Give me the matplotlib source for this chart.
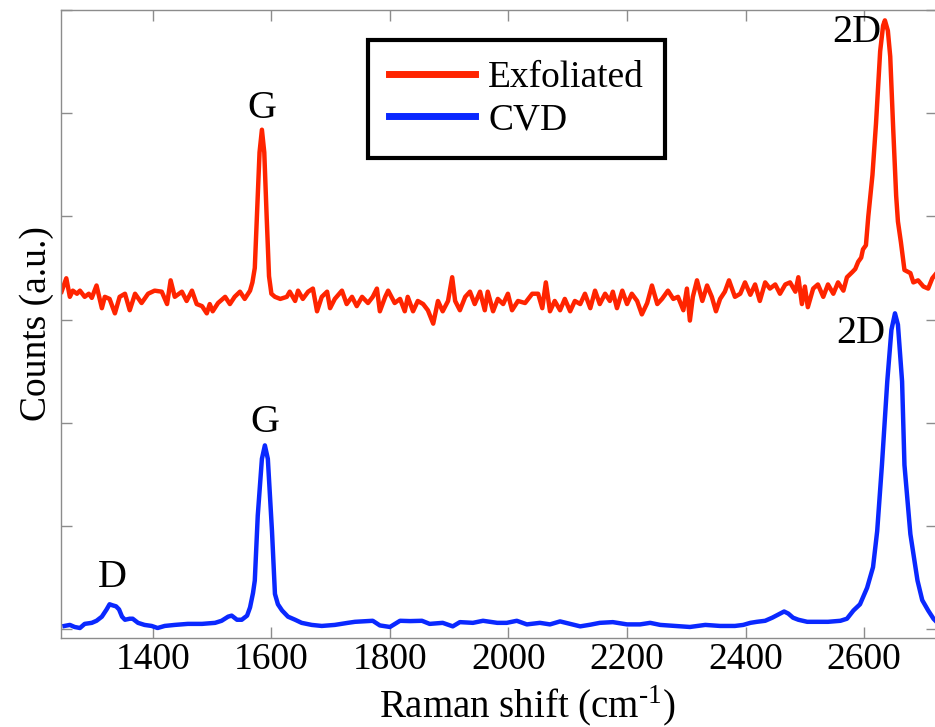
import matplotlib
matplotlib.use("Agg")
import matplotlib.pyplot as plt

# Raman spectra (counts in arbitrary units, one tick = 1)
exfoliated_shift = [
    1246, 1254, 1260, 1265, 1272, 1277, 1285, 1292, 1297, 1305, 1314, 1319, 1327, 1336,
    1344, 1353, 1361, 1370, 1381, 1392, 1403, 1415, 1424, 1430, 1437, 1449, 1457, 1466,
    1474, 1483, 1491, 1496, 1501, 1510, 1522, 1530, 1538, 1547, 1555, 1564,
    1568, 1572, 1576, 1580, 1584, 1588, 1592, 1596, 1600, 1606, 1615,
    1626, 1631, 1640, 1645, 1653, 1662, 1670, 1677, 1685, 1694, 1699, 1707, 1719, 1727,
    1736, 1744, 1753, 1763, 1771, 1778, 1783, 1792, 1797, 1808, 1817, 1825, 1830, 1839,
    1847, 1856, 1864, 1873, 1881, 1889, 1898, 1905, 1910, 1918, 1927, 1935, 1943, 1952,
    1960, 1965, 1974, 1982, 1991, 1999, 2006, 2016, 2028, 2040, 2050, 2057, 2063, 2070,
    2078, 2087, 2095, 2104, 2112, 2121, 2129, 2138, 2146, 2154, 2163, 2171, 2176, 2183,
    2192, 2200, 2208, 2217, 2225, 2234, 2242, 2251, 2259, 2269, 2278, 2286, 2295, 2301,
    2306, 2311, 2318, 2327, 2335, 2343, 2350, 2357, 2365, 2372, 2382, 2391, 2399, 2408,
    2416, 2424, 2433, 2441, 2450, 2458, 2467, 2475, 2484, 2489, 2495, 2500, 2505, 2514,
    2522, 2531, 2539, 2548, 2556, 2565, 2571, 2580, 2585, 2590, 2595, 2598, 2603, 2607,
    2614, 2620, 2627, 2632, 2635, 2640, 2644, 2649, 2654, 2657, 2662, 2668, 2678, 2683,
    2691, 2700, 2708, 2715, 2722,
]
exfoliated_counts = [
    3.27, 3.40, 3.22, 3.28, 3.25, 3.28, 3.22, 3.25, 3.21, 3.33, 3.11, 3.22, 3.20, 3.06,
    3.22, 3.25, 3.09, 3.25, 3.16, 3.25, 3.28, 3.27, 3.15, 3.38, 3.22, 3.27, 3.18, 3.28,
    3.15, 3.13, 3.06, 3.15, 3.08, 3.16, 3.22, 3.15, 3.22, 3.27, 3.20, 3.28,
    3.36, 3.50, 4.05, 4.62, 4.84, 4.62, 4.00, 3.42, 3.25, 3.22, 3.20,
    3.22, 3.27, 3.18, 3.28, 3.20, 3.27, 3.30, 3.08, 3.22, 3.27, 3.11, 3.20, 3.28, 3.15,
    3.22, 3.13, 3.22, 3.16, 3.22, 3.30, 3.08, 3.22, 3.28, 3.16, 3.20, 3.08, 3.22, 3.08,
    3.18, 3.15, 3.09, 2.96, 3.18, 3.08, 3.18, 3.41, 3.18, 3.09, 3.22, 3.27, 3.15, 3.27,
    3.09, 3.27, 3.08, 3.20, 3.15, 3.25, 3.09, 3.18, 3.16, 3.25, 3.25, 3.11, 3.36, 3.08,
    3.18, 3.09, 3.20, 3.08, 3.18, 3.15, 3.25, 3.11, 3.28, 3.15, 3.25, 3.18, 3.27, 3.11,
    3.28, 3.15, 3.25, 3.18, 3.05, 3.16, 3.33, 3.15, 3.20, 3.28, 3.20, 3.22, 3.09, 3.30,
    2.99, 3.22, 3.38, 3.18, 3.33, 3.22, 3.08, 3.20, 3.27, 3.38, 3.22, 3.25, 3.36, 3.24,
    3.34, 3.18, 3.36, 3.30, 3.34, 3.25, 3.34, 3.36, 3.27, 3.41, 3.15, 3.32, 3.12, 3.30,
    3.34, 3.22, 3.34, 3.25, 3.36, 3.28, 3.41, 3.46, 3.49, 3.56, 3.60, 3.68, 3.72, 4.00,
    4.40, 4.90, 5.60, 5.85, 5.90, 5.80, 5.55, 4.85, 4.20, 3.95, 3.75, 3.48, 3.45, 3.36,
    3.38, 3.32, 3.30, 3.40, 3.45,
]

cvd_shift = [
    1251, 1260, 1268, 1277, 1285, 1297, 1305, 1314, 1322, 1327, 1332, 1338, 1343, 1348,
    1353, 1361, 1366, 1375, 1386, 1398, 1408, 1420, 1437, 1459, 1483, 1505, 1516, 1527,
    1533, 1542, 1550, 1559, 1564, 1569, 1572, 1577, 1584, 1589, 1594, 1601, 1606, 1611,
    1618, 1628, 1640, 1651, 1668, 1685, 1707, 1729, 1741, 1771, 1783, 1800, 1817, 1834,
    1854, 1867, 1889, 1906, 1918, 1940, 1957, 1981, 1997, 2014, 2031, 2053, 2070, 2087,
    2104, 2121, 2138, 2154, 2176, 2200, 2222, 2239, 2256, 2281, 2306, 2332, 2357, 2382,
    2396, 2408, 2419, 2433, 2445, 2455, 2465, 2472, 2480, 2489, 2504, 2522, 2539, 2560,
    2571, 2582, 2593, 2605, 2615, 2622, 2630, 2639, 2646, 2652, 2657, 2664, 2668, 2678,
    2690, 2698, 2708, 2717, 2722,
]
cvd_counts = [
    0.03, 0.04, 0.02, 0.01, 0.05, 0.06, 0.08, 0.12, 0.19, 0.24, 0.23, 0.22, 0.19, 0.12,
    0.09, 0.10, 0.10, 0.06, 0.04, 0.03, 0.01, 0.03, 0.04, 0.05, 0.05, 0.06, 0.08, 0.12,
    0.13, 0.09, 0.09, 0.13, 0.21, 0.35, 0.47, 1.10, 1.65, 1.78, 1.65, 0.95, 0.34, 0.24,
    0.18, 0.12, 0.09, 0.06, 0.04, 0.03, 0.04, 0.06, 0.07, 0.08, 0.035, 0.02, 0.08, 0.077,
    0.08, 0.05, 0.06, 0.026, 0.067, 0.06, 0.08, 0.06, 0.06, 0.08, 0.045, 0.06, 0.045, 0.074,
    0.05, 0.026, 0.042, 0.06, 0.067, 0.045, 0.045, 0.06, 0.04, 0.03, 0.02, 0.04, 0.03, 0.03,
    0.04, 0.06, 0.07, 0.08, 0.11, 0.14, 0.17, 0.15, 0.11, 0.09, 0.07, 0.07, 0.07, 0.08,
    0.10, 0.18, 0.24, 0.40, 0.60, 0.95, 1.59, 2.40, 2.90, 3.06, 2.95, 2.40, 1.59, 0.92,
    0.47, 0.28, 0.18, 0.10, 0.07,
]

# peak labels: (text, shift, counts)
peak_labels = ["G", "2D", "D", "G", "2D"]
peak_shift = [1584, 2588, 1332, 1589, 2595]
peak_counts = [5.05, 5.78, 0.50, 2.00, 2.86]

xticks = [1400, 1600, 1800, 2000, 2200, 2400, 2600]
yticks = [0, 1, 2, 3, 4, 5, 6]

plt.rcParams["font.family"] = ["Liberation Serif", "DejaVu Serif"]
plt.rcParams["mathtext.fontset"] = "custom"
plt.rcParams["mathtext.rm"] = "Liberation Serif"

red = "#ff2400"
blue = "#0a28ff"
spine_gray = "#8c8c8c"

fig = plt.figure(figsize=(9.35, 7.27), dpi=100)
ax = fig.add_axes([0.0652, 0.1224, 0.937, 0.8638])

ax.plot(exfoliated_shift, exfoliated_counts, color=red, lw=3.2, label="Exfoliated",
        solid_joinstyle="round")
ax.plot(cvd_shift, cvd_counts, color=blue, lw=3.2, label="CVD", solid_joinstyle="round")

for lab, xs, yc in zip(peak_labels, peak_shift, peak_counts):
    ax.text(xs, yc, lab, fontsize=29, ha="center", va="center")

ax.set_xlim(1245, 2723)
ax.set_ylim(-0.087, 6.0)
ax.set_xticks(xticks)
ax.set_yticks(yticks)
ax.set_yticklabels([])
ax.tick_params(direction="in", length=8, width=1, color=spine_gray,
               top=True, right=True, labelsize=27, pad=3)
for sp in ax.spines.values():
    sp.set_color(spine_gray)
    sp.set_linewidth(1)

ax.set_xlabel("Raman shift (cm$^{\\text{-}1}$)", fontsize=28)
ax.xaxis.set_label_coords(0.532, -0.0725)
ax.set_ylabel("Counts (a.u.)", fontsize=27, labelpad=2)

leg = ax.legend(loc="upper left", bbox_to_anchor=(0.3936, 0.945),
                bbox_transform=fig.transFigure, borderaxespad=0,
                fontsize=27, handlelength=2.3, handletextpad=0.35,
                labelspacing=0.2, borderpad=0.55, fancybox=False,
                framealpha=1, edgecolor="black")
leg.get_frame().set_linewidth(3)
for line in leg.get_lines():
    line.set_linewidth(5)

fig.savefig("out.png", dpi=100)
